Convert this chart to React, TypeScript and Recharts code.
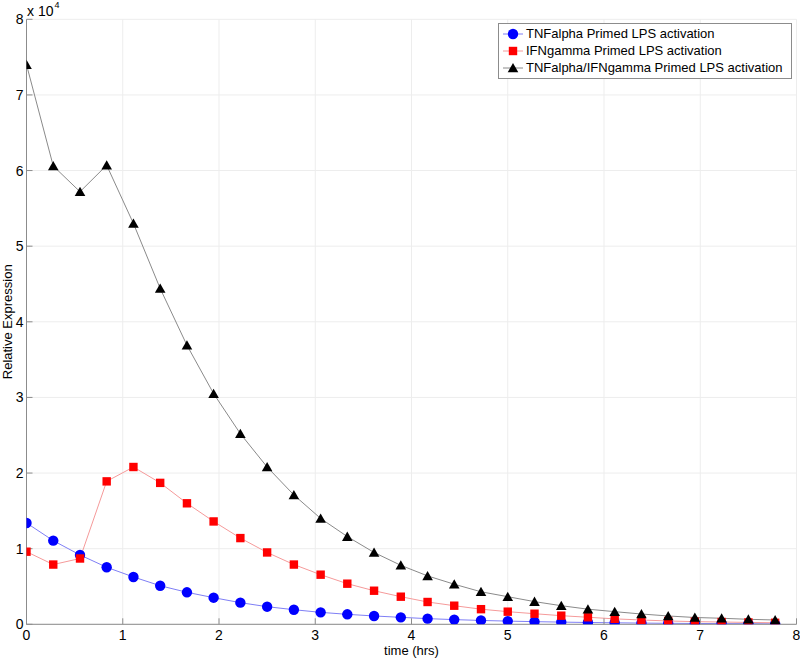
import React from 'react';
import { LineChart, Line, XAxis, YAxis, CartesianGrid, Legend } from 'recharts';

const timeHrs = [0, 0.278, 0.556, 0.833, 1.111, 1.389, 1.667, 1.944, 2.222, 2.5, 2.778, 3.056, 3.333, 3.611, 3.889, 4.167, 4.444, 4.722, 5, 5.278, 5.556, 5.833, 6.111, 6.389, 6.667, 6.944, 7.222, 7.5, 7.778];
const tnfAlpha = [13400, 11060, 9170, 7540, 6260, 5100, 4230, 3520, 2860, 2330, 1930, 1580, 1320, 1100, 920, 750, 620, 510, 420, 350, 290, 240, 200, 160, 130, 110, 90, 80, 60];
const ifnGamma = [9600, 7900, 8700, 18900, 20800, 18700, 16000, 13600, 11400, 9500, 7900, 6560, 5370, 4440, 3650, 2950, 2460, 2000, 1670, 1400, 1140, 930, 720, 570, 440, 350, 300, 250, 200];
const tnfIfn = [74000, 60600, 57200, 60700, 53000, 44400, 36900, 30500, 25200, 20800, 17100, 14000, 11600, 9500, 7800, 6400, 5300, 4300, 3650, 3000, 2460, 2000, 1670, 1360, 1100, 900, 800, 660, 570];
const seriesNames = ['TNFalpha Primed LPS activation', 'IFNgamma Primed LPS activation', 'TNFalpha/IFNgamma Primed LPS activation'];
const xTicks = [0, 1, 2, 3, 4, 5, 6, 7, 8];
const yTicks = [0, 10000, 20000, 30000, 40000, 50000, 60000, 70000, 80000];

const data = timeHrs.map((t, i) => ({ t, a: tnfAlpha[i], g: ifnGamma[i], ag: tnfIfn[i] }));

const FONT = '"Liberation Sans", Arial, Helvetica, sans-serif';
const AXIS = '#8c8c8c';

const CircleDot = (p: any) => {
  const { cx, cy } = p;
  if (cx == null || cy == null) return <g />;
  return <circle cx={cx} cy={cy} r={5.2} fill="#0000ff" stroke="none" />;
};
const SquareDot = (p: any) => {
  const { cx, cy } = p;
  if (cx == null || cy == null) return <g />;
  return <rect x={cx - 4.2} y={cy - 4.2} width={8.4} height={8.4} fill="#ff0000" stroke="none" />;
};
const TriDot = (p: any) => {
  const { cx, cy } = p;
  if (cx == null || cy == null) return <g />;
  return <path d={`M${cx},${cy - 5} L${cx + 5.3},${cy + 4.3} L${cx - 5.3},${cy + 4.3} Z`} fill="#000" stroke="none" />;
};

const legendIcons = [
  { line: '#7f7ff5', marker: <circle cx={10} cy={8} r={5.2} fill="#0000ff" /> },
  { line: '#f59a9a', marker: <rect x={5.8} y={3.8} width={8.4} height={8.4} fill="#ff0000" /> },
  { line: '#8a8a8a', marker: <path d="M10,3 L15.3,12.3 L4.7,12.3 Z" fill="#000" /> },
];

const renderLegend = () => (
  <div style={{ border: `1px solid ${AXIS}`, background: '#fff', padding: '1px 0 2px 4px', fontFamily: FONT, fontSize: 13, color: '#000' }}>
    {seriesNames.map((name, i) => (
      <div key={name} style={{ display: 'flex', alignItems: 'center', height: 17 }}>
        <svg width={20} height={16} style={{ display: 'block' }}>
          <line x1={0} y1={8} x2={20} y2={8} stroke={legendIcons[i].line} strokeWidth={1} />
          {legendIcons[i].marker}
        </svg>
        <span style={{ marginLeft: 3, whiteSpace: 'nowrap' }}>{name}</span>
      </div>
    ))}
  </div>
);

const YLabel = (props: any) => {
  const vb = props.viewBox || {};
  const cx = 8;
  const cy = vb.y + vb.height / 2;
  return (
    <g>
      <text x={cx} y={cy} transform={`rotate(-90, ${cx}, ${cy})`} textAnchor="middle" dominantBaseline="central" fontSize={13} fontFamily={FONT} fill="#000">
        Relative Expression
      </text>
      <text x={27} y={16} fontSize={14} fontFamily={FONT} fill="#000">
        x 10
        <tspan dx={1} dy={-8} fontSize={9}>4</tspan>
      </text>
    </g>
  );
};

const XLabel = (props: any) => {
  const vb = props.viewBox || {};
  return (
    <text x={vb.x + vb.width / 2} y={vb.y + 31} textAnchor="middle" fontSize={13} fontFamily={FONT} fill="#000">
      time (hrs)
    </text>
  );
};

const emptyTick = () => <g />;

export default function App() {
  return (
    <div style={{ position: 'absolute', left: 0, top: 0, width: 800, height: 660, background: '#fff' }}>
      <LineChart width={800} height={660} data={data} margin={{ top: 19.3, right: 3.5, bottom: 15.7, left: 0 }} style={{ fontFamily: FONT }}>
        <CartesianGrid xAxisId="b" yAxisId="l" stroke="#ededed" />
        <XAxis xAxisId="b" dataKey="t" type="number" domain={[0, 8]} ticks={xTicks} height={20} stroke={AXIS}
          tickSize={-6} tickMargin={12} tick={{ fill: '#000', fontSize: 14, fontFamily: FONT }} label={<XLabel />} allowDataOverflow />
        <XAxis xAxisId="top" orientation="top" dataKey="t" type="number" domain={[0, 8]} ticks={xTicks} height={0} stroke={AXIS}
          tickSize={-6} tick={emptyTick} allowDataOverflow />
        <YAxis yAxisId="l" type="number" domain={[0, 80000]} ticks={yTicks} width={26.5} stroke={AXIS}
          tickSize={-6} tickMargin={9} tick={{ fill: '#000', fontSize: 14, fontFamily: FONT }}
          tickFormatter={(v: number) => String(v / 10000)} label={<YLabel />} allowDataOverflow />
        <YAxis yAxisId="r" orientation="right" type="number" domain={[0, 80000]} ticks={yTicks} width={0} stroke={AXIS}
          tickSize={-6} tick={emptyTick} allowDataOverflow />
        <Line xAxisId="b" yAxisId="l" dataKey="a" name={seriesNames[0]} stroke="#7f7ff5" strokeWidth={1} dot={<CircleDot />} activeDot={false} isAnimationActive={false} />
        <Line xAxisId="b" yAxisId="l" dataKey="g" name={seriesNames[1]} stroke="#f59a9a" strokeWidth={1} dot={<SquareDot />} activeDot={false} isAnimationActive={false} />
        <Line xAxisId="b" yAxisId="l" dataKey="ag" name={seriesNames[2]} stroke="#8a8a8a" strokeWidth={1} dot={<TriDot />} activeDot={false} isAnimationActive={false} />
        <Legend layout="horizontal" verticalAlign="middle" align="center" content={renderLegend}
          wrapperStyle={{ position: 'absolute', left: 498, top: 23, width: 294, height: 'auto', margin: 0 }} />
      </LineChart>
    </div>
  );
}
